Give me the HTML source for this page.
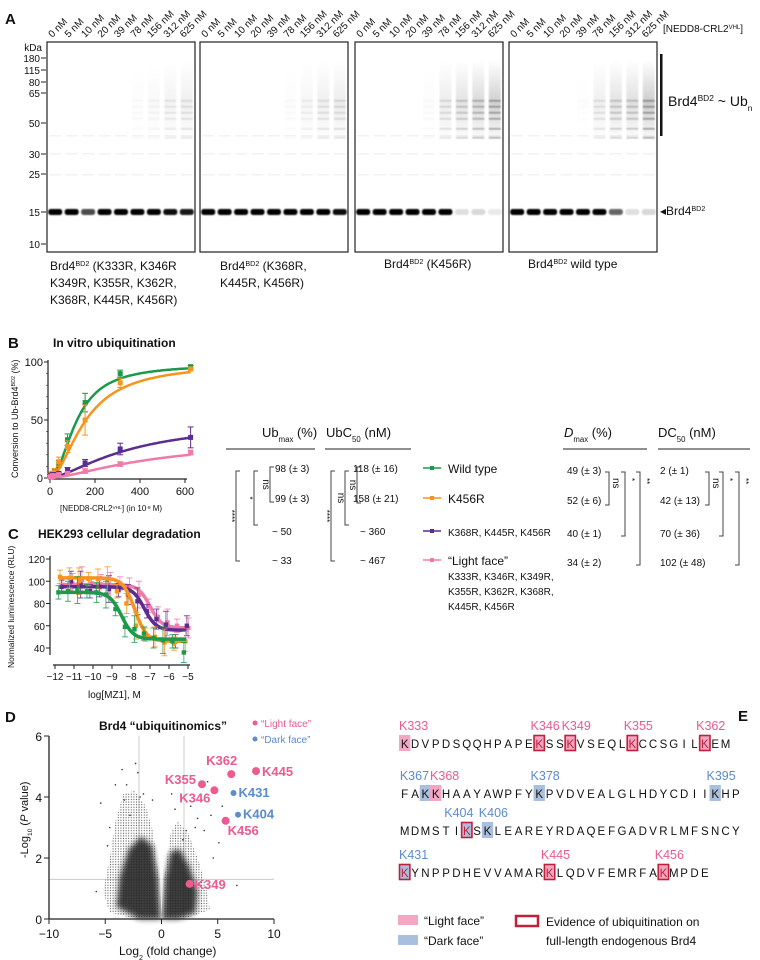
<!DOCTYPE html>
<html><head><meta charset="utf-8">
<style>
html,body{margin:0;padding:0;background:#fff;}
svg{display:block;font-family:"Liberation Sans",sans-serif;}
</style></head>
<body>
<svg id="fig" width="760" height="960" viewBox="0 0 760 960" xmlns="http://www.w3.org/2000/svg">
<defs>
<pattern id="dots" width="2.6" height="2.6" patternUnits="userSpaceOnUse"><circle cx="1.3" cy="1.3" r="0.6" fill="#222"/></pattern>
<linearGradient id="smear" x1="0" y1="0" x2="0" y2="1"><stop offset="0" stop-color="#000" stop-opacity="0"/><stop offset="0.55" stop-color="#000" stop-opacity="0.25"/><stop offset="1" stop-color="#000" stop-opacity="0.03"/></linearGradient>
<filter id="blur" x="-20%" y="-20%" width="140%" height="140%"><feGaussianBlur stdDeviation="3"/></filter>
<filter id="bblur" x="-20%" y="-50%" width="140%" height="200%"><feGaussianBlur stdDeviation="0.8"/></filter>
</defs>
<g id="root"></g>
</svg>
<script>
// ---------- data ----------
const lanes = ["0 nM","5 nM","10 nM","20 nM","39 nM","78 nM","156 nM","312 nM","625 nM"];
const kdaLabels = ["180","115","80","65","50","30","25","15","10"];
const kdaY = [58,70,82,93,123,154,174,212,244];
const gel1Band = [1,1,0.7,1,1,1,1,0.95,0.9];
const gel2Band = [1,1,1,1,1,1,1,1,0.95];
const gel3Band = [1,1,1,1,1,1,0.12,0.15,0.0];
const gel4Band = [1,1,1,1,1,1,0.6,0.12,0.15];
const gel1Smear = [0,0,0,0,0,0.05,0.1,0.2,0.25];
const gel2Smear = [0,0,0,0,0,0.05,0.15,0.25,0.3];
const gel3Smear = [0,0,0,0,0.05,0.3,0.45,0.6,0.75];
const gel4Smear = [0,0,0,0,0.03,0.25,0.45,0.5,0.8];

const bConc = [0,5,10,20,39,78,156,312,625];
const bWT = [2,3,4,6,12,33,65,90,96];
const bK456R = [2,3,4,5,14,27,50,82,94];
const bTriple = [2,2,3,3,4,7,13,25,35];
const bLight = [1,1,2,2,3,4,6,12,22];
const bMax = [98,99,50,33];
const bEC50 = [118,158,360,467];
const bHill = [2,1.8,1.5,1.5];
const bTicksX = [0,200,400,600];
const bTicksY = [0,50,100];

const cLogX = [-11.7,-11.2,-10.7,-10.2,-9.7,-9.2,-8.7,-8.2,-7.7,-7.2,-6.7,-6.2,-5.7,-5.1];
const cWT = [90,91,92,91,90,88,75,59,57,53,49,47,46,36];
const cK456R = [104,103,100,102,102,101,91,80,60,52,50,45,44,46];
const cTriple = [95,100,97,91,95,93,92,88,82,73,66,61,46,60];
const cLight = [96,98,101,98,97,96,98,94,88,78,68,63,60,58];
const cTop = [90,103,95,97];
const cBottom = [48,46,56,58];
const cLogDC = [-8.5,-7.8,-7.3,-7.0];
const cTicksX = [-12,-11,-10,-9,-8,-7,-6,-5];
const cTicksY = [40,60,80,100,120];

const dSites = ["K445","K362","K355","K346","K431","K404","K456","K349"];
const dFC = [8.4,6.2,3.6,4.7,6.4,6.8,5.7,2.5];
const dP = [4.85,4.75,4.42,4.22,4.13,3.42,3.22,1.15];
const dFace = ["light","light","light","light","dark","dark","light","light"];
const dOutFC = [-2.3,-3.5,-2.1,-4.1,-5.4,-4.6,-1.6,1.2,2.6,3.2,4.4,1.9,5.1,4.6,-0.8,0.9,3.8,-3.1,6.7,5.4,-5.8,4.1,-3.3,-2.8,-1.9,2.2,3.0,-4.8];
const dOutP = [5.1,4.9,4.8,4.4,3.8,3.0,4.1,3.6,3.7,3.3,3.4,2.6,2.5,2.0,3.9,4.1,2.9,4.4,1.1,3.7,0.9,4.5,3.9,3.4,4.0,2.9,3.0,2.4];
const dTicksX = [-10,-5,0,5,10];
const dTicksY = [0,2,4,6];

// ---------- helpers ----------
const NS="http://www.w3.org/2000/svg";
const root=document.getElementById('root');
function mk(tag,attrs,parent,text){const e=document.createElementNS(NS,tag);for(const k in attrs)e.setAttribute(k,attrs[k]);if(text!==undefined)e.textContent=text;(parent||root).appendChild(e);return e;}
function txt(x,y,s,size,opts,parent){opts=opts||{};const a={x:x,y:y,'font-size':size,fill:opts.fill||'#111'};if(opts.anchor)a['text-anchor']=opts.anchor;if(opts.weight)a['font-weight']=opts.weight;if(opts.tr)a.transform=opts.tr;if(opts.style)a['font-style']=opts.style;return mk('text',a,parent,s);}
function rich(x,y,segs,size,opts,parent){opts=opts||{};const a={x:x,y:y,'font-size':size,fill:opts.fill||'#111'};if(opts.tr)a.transform=opts.tr;if(opts.anchor)a['text-anchor']=opts.anchor;const t=mk('text',a,parent);
  segs.forEach(s=>{const ta={};if(s[1]==1){ta['font-size']=size*0.6;ta['baseline-shift']='super';}if(s[1]==2){ta['font-size']=size*0.6;ta['baseline-shift']='sub';}if(s[1]==3){ta['font-style']='italic';}mk('tspan',ta,t,s[0]);});return t;}
const COL=['#1a9a4a','#f7941d','#5b2c91','#f07aa8'];

// ---------- Panel A ----------
const gA=mk('g',{});


txt(5,24,'A',15,{weight:'bold'},gA);
const gelX=[47,200,355,509];
const bands=[gel1Band,gel2Band,gel3Band,gel4Band];
const smears=[gel1Smear,gel2Smear,gel3Smear,gel4Smear];
gelX.forEach((gx,gi)=>{
  const g=mk('g',{},gA);
  
  
  const w=148,lw=w/9;
  for(let i=0;i<9;i++){
    const cx=gx+lw*(i+0.5);
    const lt=txt(cx-3,38,lanes[i],10,{tr:`rotate(-45 ${cx-3} 38)`},g);
    
    
    const s=smears[gi][i];
    if(s>0){
      mk('rect',{x:cx-6,y:60,width:12,height:78,fill:'url(#smear)',opacity:s,filter:'url(#bblur)'},g);
      [100,106,112,118,128,137].forEach(yy=>mk('rect',{x:cx-6,y:yy,width:12,height:1.6,fill:'#000',opacity:s*0.45,filter:'url(#bblur)'},g));
    }
    [135,153,174].forEach(yy=>mk('rect',{x:cx-6,y:yy,width:12,height:1.5,fill:'#000',opacity:0.05},g));
    const b=bands[gi][i];
    const r=mk('rect',{x:cx-7,y:209,width:14,height:6,rx:2.5,fill:'#000',opacity:Math.max(0.08,Math.min(1,b)),filter:'url(#bblur)'},g);
    
    
  }
  mk('rect',{x:gx,y:42,width:w,height:210,fill:'none',stroke:'#222','stroke-width':1.2},g);
});
txt(42,51,'kDa',10,{anchor:'end'},gA);
kdaLabels.forEach((l,i)=>{txt(40,kdaY[i]+4,l,10,{anchor:'end'},gA);mk('line',{x1:41,x2:46,y1:kdaY[i],y2:kdaY[i],stroke:'#222'},gA);});
rich(663,32,[['[NEDD8-CRL2',0],['VHL',1],[']',0]],10,{},gA);
mk('rect',{x:660,y:54,width:2.5,height:82,fill:'#111'},gA);
rich(668,106,[['Brd4',0],['BD2',1],[' ~ Ub',0],['n',2]],14,{},gA);
rich(660,215,[['◂Brd4',0],['BD2',1]],12,{},gA);
rich(50,270,[['Brd4',0],['BD2',1],[' (K333R, K346R',0]],12,{},gA);txt(50,287,'K349R, K355R, K362R,',12,{},gA);txt(50,304,'K368R, K445R, K456R)',12,{},gA);
rich(220,270,[['Brd4',0],['BD2',1],[' (K368R,',0]],12,{},gA);txt(220,287,'K445R, K456R)',12,{},gA);
rich(384,268,[['Brd4',0],['BD2',1],[' (K456R)',0]],12,{},gA);
rich(528,268,[['Brd4',0],['BD2',1],[' wild type',0]],12,{},gA);

// ---------- Panel B ----------
const gB=mk('g',{});


const bx=v=>50+v*0.225, by=v=>478-v*1.16;
txt(8,348,'B',15,{weight:'bold'},gB);
txt(53,347,'In vitro ubiquitination',12,{weight:'bold'},gB);
mk('line',{x1:48,x2:48,y1:360,y2:479,stroke:'#222','stroke-width':1.2},gB);
mk('line',{x1:48,x2:187,y1:479,y2:479,stroke:'#222','stroke-width':1.2},gB);
bTicksY.forEach(v=>{mk('line',{x1:44,x2:48,y1:by(v),y2:by(v),stroke:'#222'},gB);txt(43,by(v)+4,String(v),11,{anchor:'end'},gB);});
for(let v=10;v<100;v+=10)mk('line',{x1:46,x2:48,y1:by(v),y2:by(v),stroke:'#222','stroke-width':0.6},gB);
bTicksX.forEach(v=>{mk('line',{x1:bx(v),x2:bx(v),y1:479,y2:483,stroke:'#222'},gB);txt(bx(v),495,String(v),11,{anchor:'middle'},gB);});
rich(60,511,[['[NEDD8-CRL2',0],['VHL',1],['] (in 10',0],['-9',1],[' M)',0]],8,{},gB);
rich(18,478,[['Conversion to Ub-Brd4',0],['BD2',1],[' (%)',0]],9,{tr:'rotate(-90 18 478)'},gB);
const bSeries=[bWT,bK456R,bTriple,bLight];
const bErr=[[1,1,1,2,3,5,8,3,1],[1,1,1,3,4,5,13,4,1],[1,1,1,1,1,2,3,5,9],[1,1,1,1,1,1,2,2,2]];
bSeries.forEach((s,si)=>{
  const g=mk('g',{},gB);
  
  
  let d='';
  for(let v=0;v<=625;v+=5){const y=bMax[si]*Math.pow(v,bHill[si])/(Math.pow(bEC50[si],bHill[si])+Math.pow(v,bHill[si]));d+=(v?'L':'M')+bx(v).toFixed(1)+','+by(y).toFixed(1);}
  mk('path',{d:d,fill:'none',stroke:COL[si],'stroke-width':2.5},g);
  s.forEach((v,i)=>{const x=bx(bConc[i]),e=bErr[si][i];
    mk('line',{x1:x,x2:x,y1:by(v-e),y2:by(v+e),stroke:COL[si],'stroke-width':1},g);
    mk('line',{x1:x-3,x2:x+3,y1:by(v+e),y2:by(v+e),stroke:COL[si]},g);
    mk('line',{x1:x-3,x2:x+3,y1:by(v-e),y2:by(v-e),stroke:COL[si]},g);
    const p=mk('rect',{x:x-2.5,y:by(v)-2.5,width:5,height:5,fill:COL[si]},g);
    
    
  });
});

// ---------- Panel C ----------
const gC=mk('g',{});


const cx=v=>55+(v+12)*19, cy=v=>559+(120-v)*1.1125;
txt(8,539,'C',15,{weight:'bold'},gC);
txt(38,538,'HEK293 cellular degradation',12,{weight:'bold'},gC);
mk('line',{x1:50,x2:50,y1:556,y2:655,stroke:'#222','stroke-width':1.2},gC);
mk('line',{x1:53,x2:190,y1:665,y2:665,stroke:'#222','stroke-width':1.2},gC);
cTicksY.forEach(v=>{mk('line',{x1:46,x2:50,y1:cy(v),y2:cy(v),stroke:'#222'},gC);txt(45,cy(v)+4,String(v),10,{anchor:'end'},gC);});
cTicksX.forEach(v=>{mk('line',{x1:cx(v),x2:cx(v),y1:665,y2:669,stroke:'#222'},gC);txt(cx(v),680,'−'+Math.abs(v),10,{anchor:'middle'},gC);});
txt(88,698,'log[MZ1], M',10,{},gC);
txt(14,668,'Normalized luminescence (RLU)',8.5,{tr:'rotate(-90 14 668)'},gC);
const cSeries=[cWT,cK456R,cTriple,cLight];
const cOrder=[3,2,1,0];
cOrder.forEach(si=>{
  const s=cSeries[si];
  const g=mk('g',{},gC);
  
  
  let d='';
  for(let v=-11.7;v<=-5.05;v+=0.05){const y=cBottom[si]+(cTop[si]-cBottom[si])/(1+Math.pow(10,(v-cLogDC[si])*1.4));d+=(d?'L':'M')+cx(v).toFixed(1)+','+cy(y).toFixed(1);}
  mk('path',{d:d,fill:'none',stroke:COL[si],'stroke-width':3.5},g);
  s.forEach((v,i)=>{const x=cx(cLogX[i])+(si-1.5)*1.5,e=6+(i%3)*3;
    mk('line',{x1:x,x2:x,y1:cy(v-e),y2:cy(v+e),stroke:COL[si],'stroke-width':0.9,opacity:0.8},g);
    mk('line',{x1:x-3,x2:x+3,y1:cy(v+e),y2:cy(v+e),stroke:COL[si],opacity:0.8},g);
    mk('line',{x1:x-3,x2:x+3,y1:cy(v-e),y2:cy(v-e),stroke:COL[si],opacity:0.8},g);
    const p=mk('rect',{x:x-2.2,y:cy(v)-2.2,width:4.4,height:4.4,fill:COL[si]},g);
    
    
  });
});

// ---------- Table ----------
const gT=mk('g',{});


rich(262,437,[['Ub',0],['max',2],[' (%)',0]],13,{},gT);
mk('line',{x1:226,x2:315,y1:449,y2:449,stroke:'#222'},gT);
rich(326,437,[['UbC',0],['50',2],[' (nM)',0]],13,{},gT);
mk('line',{x1:325,x2:411,y1:449,y2:449,stroke:'#222'},gT);
rich(564,437,[['D',3],['max',2],[' (%)',0]],13,{},gT);
mk('line',{x1:563,x2:647,y1:449,y2:449,stroke:'#222'},gT);
rich(658,437,[['DC',0],['50',2],[' (nM)',0]],13,{},gT);
mk('line',{x1:658,x2:750,y1:449,y2:449,stroke:'#222'},gT);
const rowY=[472,502,535,564];
const ubVals=['98 (± 3)','99  (± 3)','~ 50','~ 33'];
const ubcVals=['118 (± 16)','158 (± 21)','~ 360','~ 467'];
const dmaxVals=['49  (± 3)','52 (± 6)','40  (± 1)','34 (± 2)'];
const dcVals=['2  (± 1)','42  (± 13)','70  (± 36)','102  (± 48)'];
const names=['Wild type','K456R','K368R, K445R, K456R','“Light face”'];
rowY.forEach((y,i)=>{
  txt(i<2?275:272,y,ubVals[i],10,{},gT);
  txt(i<2?353:360,y,ubcVals[i],10,{},gT);
  txt(567,y+2,dmaxVals[i],10,{},gT);
  txt(660,y+2,dcVals[i],10,{},gT);
  mk('line',{x1:423,x2:441,y1:y-4,y2:y-4,stroke:COL[i],'stroke-width':1.5},gT);
  mk('rect',{x:430,y:y-6,width:4,height:4,fill:COL[i]},gT);
  txt(448,y+1,names[i],i==2?10:12,{},gT);
});
txt(448,580,'K333R, K346R, K349R,',10,{},gT);txt(448,595,'K355R, K362R, K368R,',10,{},gT);txt(448,610,'K445R, K456R',10,{},gT);
function lb(x,y1,y2,label){mk('path',{d:`M${x+4},${y1}H${x}V${y2}H${x+4}`,fill:'none',stroke:'#444'},gT);if(label){const cxl=x-7,cyl=(y1+y2)/2;txt(cxl,cyl,label,label=='ns'?10:8,{anchor:'middle',tr:`rotate(90 ${cxl} ${cyl})`},gT);}}
function rb(x,y1,y2,label){mk('path',{d:`M${x-4},${y1}H${x}V${y2}H${x-4}`,fill:'none',stroke:'#444'},gT);if(label){txt(x+4,y1+6,label,label=='ns'?10:8,{tr:`rotate(90 ${x+4} ${y1+6})`},gT);}}
lb(236,471,561,'****');lb(254,471,525,'*');lb(270,467,502,'ns');
lb(331,471,561,'****');lb(345,471,525,'ns');lb(357,467,503,'ns');
rb(609,472,505,'ns');rb(625,472,536,'*');rb(640,472,565,'**');
rb(709,472,505,'ns');rb(723,472,536,'*');rb(739,472,565,'**');

// ---------- Panel D ----------
const gD=mk('g',{});


const dx=v=>161.5+v*11.25, dy=v=>919-v*30.5;
txt(5,722,'D',15,{weight:'bold'},gD);
txt(99,730,'Brd4 “ubiquitinomics”',12,{weight:'bold'},gD);
[-2,2].forEach(v=>mk('line',{x1:dx(v),x2:dx(v),y1:dy(6),y2:dy(0),stroke:'#ccc'},gD));
mk('line',{x1:dx(-10),x2:dx(10),y1:dy(1.3),y2:dy(1.3),stroke:'#ccc'},gD);
const lobeL=[[-0.15,0],[-0.3,1.5],[-0.7,2.8],[-1.4,3.7],[-2.4,4.2],[-3.4,4.1],[-4.1,3.2],[-4.6,2],[-5.2,0.9],[-4.6,0.2],[-2,0]];
const lobeR=[[0.15,0],[0.3,1.5],[0.8,2.8],[1.4,3.2],[2.4,2.8],[3.3,1.9],[4.0,1.0],[4.3,0.3],[2,0]];
[lobeL,lobeR].forEach(l=>{
  const pts=l.map(p=>dx(p[0]).toFixed(1)+','+dy(p[1]).toFixed(1)).join(' ');
  mk('polygon',{points:pts,fill:'url(#dots)',opacity:0.75},gD);
});
const coreL=[[-0.1,0],[-0.3,1.3],[-0.8,2.4],[-1.8,2.7],[-2.9,2.3],[-3.7,1.4],[-4,0.4],[-2,0]];
const coreR=[[0.1,0],[0.3,1.3],[0.8,2.2],[1.6,2.3],[2.5,1.7],[3.2,0.9],[3,0.2],[1.5,0]];
[coreL,coreR].forEach(l=>{
  const pts=l.map(p=>dx(p[0]).toFixed(1)+','+dy(p[1]).toFixed(1)).join(' ');
  mk('polygon',{points:pts,fill:'#1c1c1c',opacity:0.85,filter:'url(#blur)'},gD);
});
mk('polygon',{points:[[0,0],[-0.25,2.6],[0.25,2.6]].map(p=>dx(p[0])+','+dy(p[1])).join(' '),fill:'#fff',opacity:0.7},gD);
dOutFC.forEach((v,i)=>mk('circle',{cx:dx(v),cy:dy(dOutP[i]),r:0.8,fill:'#333'},gD));
mk('line',{x1:dx(-10),x2:dx(-10),y1:dy(6),y2:dy(0),stroke:'#222','stroke-width':1.3},gD);
mk('line',{x1:dx(-10),x2:dx(10),y1:dy(0),y2:dy(0),stroke:'#222','stroke-width':1.3},gD);
dTicksY.forEach(v=>{mk('line',{x1:dx(-10)-5,x2:dx(-10),y1:dy(v),y2:dy(v),stroke:'#222'},gD);txt(dx(-10)-7,dy(v)+5,String(v),12,{anchor:'end'},gD);});
dTicksX.forEach(v=>{mk('line',{x1:dx(v),x2:dx(v),y1:dy(0),y2:dy(0)+5,stroke:'#222'},gD);txt(dx(v),938,v<0?'−'+Math.abs(v):String(v),12,{anchor:'middle'},gD);});
rich(119,955,[['Log',0],['2',2],[' (fold change)',0]],12,{},gD);
rich(28,858,[['-Log',0],['10',2],[' (',0],['P',3],[' value)',0]],11,{tr:'rotate(-90 28 858)'},gD);
mk('circle',{cx:255,cy:723,r:2.5,fill:'#ec5a8f'},gD);txt(261,727,'“Light face”',10,{fill:'#ec5a8f'},gD);
mk('circle',{cx:255,cy:739,r:2.5,fill:'#5b8ccc'},gD);txt(261,743,'“Dark face”',10,{fill:'#5b8ccc'},gD);
const labOff={K445:[6,5,'start'],K362:[6,-9,'end'],K355:[-6,0,'end'],K346:[-4,12,'end'],K431:[5,4,'start'],K404:[5,4,'start'],K456:[2,14,'start'],K349:[5,5,'start']};
dSites.forEach((s,i)=>{
  const c=dFace[i]=='light'?'#ec5a8f':'#5b8ccc';
  const x=dx(dFC[i]),y=dy(dP[i]);
  const p=mk('circle',{cx:x,cy:y,r:dFace[i]=='light'?4:3,fill:c},gD);
  
  
  const o=labOff[s];
  txt(x+o[0],y+o[1],s,13,{fill:c,anchor:o[2],weight:'bold'},gD);
});

// ---------- Panel E ----------
const gE=mk('g',{});


txt(738,721,'E',15,{weight:'bold'},gE);
const rows=[
 {s:'KDVPDSQQHPAPEKSSKVSEQLKCCSGILKEM',y:748,marks:[[0,'l',0,'K333'],[13,'l',1,'K346'],[16,'l',1,'K349'],[22,'l',1,'K355'],[29,'l',1,'K362']]},
 {s:'FAKKHAAYAWPFYKPVDVEALGLHDYCDIIKHP',y:798,marks:[[2,'d',0,'K367'],[3,'l',0,'K368'],[13,'d',0,'K378'],[30,'d',0,'K395']]},
 {s:'MDMSTIKSKLEAREYRDAQEFGADVRLMFSNCY',y:835,marks:[[6,'d',1,'K404'],[8,'d',0,'K406']]},
 {s:'KYNPPDHEVVAMARKLQDVFEMRFAKMPDE',y:877,marks:[[0,'d',1,'K431'],[14,'l',1,'K445'],[25,'l',1,'K456']]}
];
const cw=10.35,x0=400;
rows.forEach((r,ri)=>{
  const g=mk('g',{},gE);
  
  
  r.marks.forEach(m=>{
    const x=x0+m[0]*cw;
    mk('rect',{x:x-1,y:r.y-13,width:cw+1,height:16,fill:m[1]=='l'?'#f4a6c2':'#a9bfdd'},g);
    if(m[2])mk('rect',{x:x-0.5,y:r.y-12.5,width:cw,height:15,fill:'none',stroke:'#c0203a','stroke-width':1.6},g);
    const col=m[1]=='l'?'#ec5a8f':'#5b8ccc';
    if(m[3]=='K367') txt(x+cw-2,r.y-18,m[3],12.5,{fill:col,anchor:'end'},g);
    else if(m[3]=='K404') txt(x+cw+1,r.y-18,m[3],12.5,{fill:col,anchor:'end'},g);
    else if(m[3]=='K368') txt(x-1,r.y-18,m[3],12.5,{fill:col},g);
    else txt(m[0]==0?x-1:x-4,r.y-18,m[3],12.5,{fill:col},g);
  });
  for(let i=0;i<r.s.length;i++){
    const isRed=r.marks.some(m=>m[0]==i&&m[2]);
    txt(x0+i*cw+cw/2-0.5,r.y,r.s[i],11.5,{anchor:'middle',fill:isRed?'#c0203a':'#111'},g);
  }
});
mk('rect',{x:398,y:915,width:20,height:10,fill:'#f4a6c2'},gE);txt(424,925,'“Light face”',12,{},gE);
mk('rect',{x:398,y:935,width:20,height:10,fill:'#a9bfdd'},gE);txt(424,945,'“Dark face”',12,{},gE);
mk('rect',{x:516,y:916,width:22,height:10,fill:'none',stroke:'#c0203a','stroke-width':2.5},gE);
txt(546,926,'Evidence of ubiquitination on',12,{},gE);txt(546,945,'full-length endogenous Brd4',12,{},gE);
</script>
</body></html>
